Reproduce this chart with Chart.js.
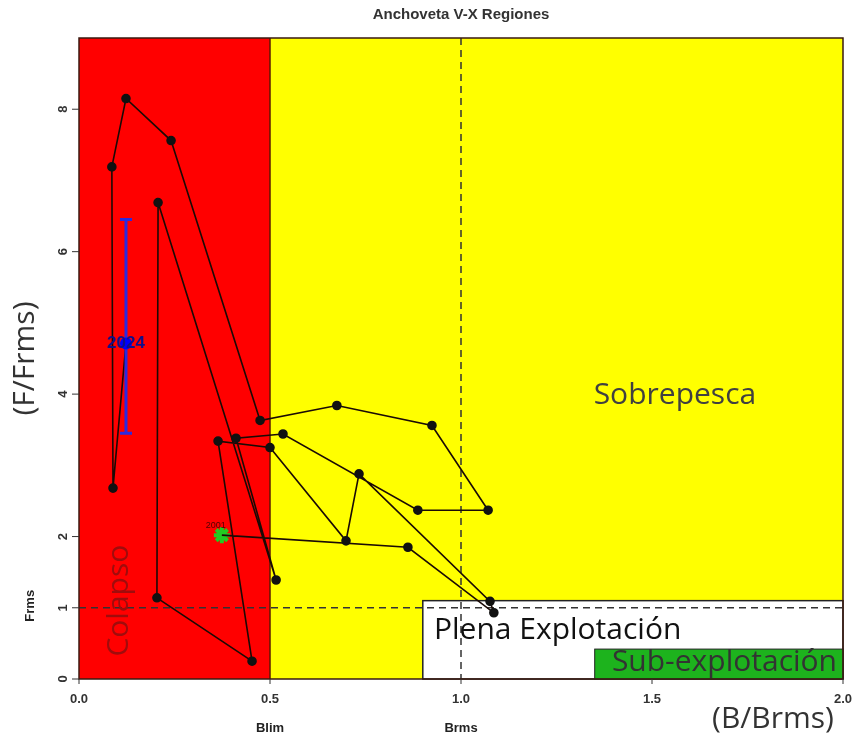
<!DOCTYPE html>
<html>
<head>
<meta charset="utf-8">
<script src="https://cdn.jsdelivr.net/npm/chart.js@4.4.1/dist/chart.umd.min.js"></script>
<style>
  body { margin: 0; background: #fff; }
  .chart-box { width: 855px; height: 742px; }
</style>
</head>
<body>
<div class="chart-box">
  <canvas id="kobe" width="855" height="742"></canvas>
</div>
<script>
  // Trayectoria anual B/Brms vs F/Frms
  const years = [2001, 2002, 2003, 2004, 2005, 2006, 2007, 2008, 2009, 2010, 2011, 2012,
                 2013, 2014, 2015, 2016, 2017, 2018, 2019, 2020, 2021, 2022, 2023, 2024];
  const bRatio = [0.374, 0.861, 1.086, 1.076, 0.733, 0.699, 0.500, 0.364, 0.453, 0.204, 0.207, 0.516,
                  0.411, 0.534, 0.887, 1.071, 0.924, 0.675, 0.474, 0.241, 0.123, 0.086, 0.089, 0.123];
  const fRatio = [2.02, 1.85, 0.93, 1.09, 2.88, 1.94, 3.25, 3.34, 0.25, 1.14, 6.69, 1.39,
                  3.38, 3.44, 2.37, 2.37, 3.56, 3.84, 3.63, 7.56, 8.15, 7.19, 2.68, 4.71];
  // intervalo del último año
  const lastFLow = 3.45;
  const lastFHigh = 6.45;

  // puntos de referencia y zonas
  const blim = 0.5;
  const brms = 1.0;
  const frms = 1.0;
  const plenaB = [0.9, 2.0];
  const plenaF = [0, 1.1];
  const subB = [1.35, 2.0];
  const subF = [0, 0.42];

  const xTicks = [0, 0.5, 1.0, 1.5, 2.0];
  const yTicks = [0, 1, 2, 4, 6, 8];

  const pts = bRatio.map((b, i) => ({ x: b, y: fRatio[i] }));
  const nPts = pts.length;

  const zonasPlugin = {
    id: "zonas",
    beforeDatasetsDraw(chart) {
      const { ctx, chartArea: a, scales } = chart;
      const X = (v) => scales.x.getPixelForValue(v);
      const Y = (v) => scales.y.getPixelForValue(v);
      ctx.save();
      // colapso
      ctx.fillStyle = "#ff0000";
      ctx.fillRect(a.left, a.top, X(blim) - a.left, a.bottom - a.top);
      // sobrepesca
      ctx.fillStyle = "#ffff00";
      ctx.fillRect(X(blim), a.top, a.right - X(blim), a.bottom - a.top);
      ctx.strokeStyle = "#5a1a00";
      ctx.lineWidth = 1.5;
      ctx.beginPath();
      ctx.moveTo(X(blim), a.top);
      ctx.lineTo(X(blim), a.bottom);
      ctx.stroke();
      // plena explotacion
      ctx.fillStyle = "#ffffff";
      ctx.fillRect(X(plenaB[0]), Y(plenaF[1]), X(plenaB[1]) - X(plenaB[0]), Y(plenaF[0]) - Y(plenaF[1]));
      ctx.strokeStyle = "#222";
      ctx.lineWidth = 1.5;
      ctx.strokeRect(X(plenaB[0]), Y(plenaF[1]), X(plenaB[1]) - X(plenaB[0]), Y(plenaF[0]) - Y(plenaF[1]));
      // sub-explotacion
      ctx.fillStyle = "#1db31d";
      ctx.fillRect(X(subB[0]), Y(subF[1]), X(subB[1]) - X(subB[0]), Y(subF[0]) - Y(subF[1]));
      ctx.strokeStyle = "#222";
      ctx.lineWidth = 1;
      ctx.strokeRect(X(subB[0]), Y(subF[1]), X(subB[1]) - X(subB[0]), Y(subF[0]) - Y(subF[1]));

      // lineas de referencia
      ctx.setLineDash([7, 5]);
      ctx.strokeStyle = "#333";
      ctx.lineWidth = 1.5;
      ctx.beginPath();
      ctx.moveTo(X(brms), a.top);
      ctx.lineTo(X(brms), a.bottom);
      ctx.moveTo(a.left, Y(frms));
      ctx.lineTo(a.right, Y(frms));
      ctx.stroke();
      ctx.setLineDash([]);

      // textos de zonas
      ctx.textBaseline = "middle";
      ctx.textAlign = "center";
      ctx.fillStyle = "#404040";
      ctx.font = '30px "Open Sans", sans-serif';
      ctx.fillText("Sobrepesca", X(1.56), Y(3.98));
      ctx.fillStyle = "#111";
      ctx.fillText("Plena Explotación", X(1.253), Y(0.68));
      ctx.save();
      ctx.beginPath();
      ctx.rect(a.left, a.top, a.right - a.left, a.bottom - a.top);
      ctx.clip();
      ctx.fillStyle = "#333";
      ctx.textAlign = "left";
      ctx.fillText("Sub-explotación", X(1.395), Y(0.23));
      ctx.restore();
      ctx.save();
      ctx.translate(X(0.107), Y(1.1));
      ctx.rotate(-Math.PI / 2);
      ctx.fillStyle = "#a00c0c";
      ctx.fillText("Colapso", 0, 0);
      ctx.restore();
      ctx.restore();
    },
    afterDatasetsDraw(chart) {
      const { ctx, chartArea: a, scales } = chart;
      const X = (v) => scales.x.getPixelForValue(v);
      const Y = (v) => scales.y.getPixelForValue(v);
      ctx.save();
      // barra de error del ultimo año
      const lx = X(bRatio[nPts - 1]);
      ctx.strokeStyle = "#2a2ae0";
      ctx.lineWidth = 3;
      ctx.beginPath();
      ctx.moveTo(lx, Y(lastFLow));
      ctx.lineTo(lx, Y(lastFHigh));
      ctx.moveTo(lx - 6, Y(lastFLow));
      ctx.lineTo(lx + 6, Y(lastFLow));
      ctx.moveTo(lx - 6, Y(lastFHigh));
      ctx.lineTo(lx + 6, Y(lastFHigh));
      ctx.stroke();
      ctx.fillStyle = "#0000ff";
      ctx.beginPath();
      ctx.arc(lx, Y(fRatio[nPts - 1]), 6, 0, Math.PI * 2);
      ctx.fill();
      ctx.textAlign = "center";
      ctx.textBaseline = "middle";
      ctx.fillStyle = "#10108a";
      ctx.font = 'bold 17px "Liberation Sans", sans-serif';
      ctx.fillText(String(years[nPts - 1]), lx, Y(fRatio[nPts - 1]));
      // etiqueta primer año
      ctx.fillStyle = "#500000";
      ctx.font = '9px "Liberation Sans", sans-serif';
      ctx.fillText(String(years[0]), X(bRatio[0]) - 6, Y(fRatio[0]) - 10);

      // marco
      ctx.strokeStyle = "#3a1a10";
      ctx.lineWidth = 1.5;
      ctx.strokeRect(a.left, a.top, a.right - a.left, a.bottom - a.top);

      // ejes y etiquetas
      ctx.fillStyle = "#333";
      ctx.strokeStyle = "#333";
      ctx.lineWidth = 1;
      ctx.font = 'bold 13px "Liberation Sans Narrow", "Liberation Sans", sans-serif';
      xTicks.forEach((t) => {
        const px = X(t);
        ctx.beginPath();
        ctx.moveTo(px, a.bottom);
        ctx.lineTo(px, a.bottom + 5);
        ctx.stroke();
        ctx.fillText(t.toFixed(1), px, a.bottom + 20);
      });
      yTicks.forEach((t) => {
        const py = Y(t);
        ctx.beginPath();
        ctx.moveTo(a.left - 7, py);
        ctx.lineTo(a.left, py);
        ctx.stroke();
        ctx.save();
        ctx.translate(a.left - 16, py);
        ctx.rotate(-Math.PI / 2);
        ctx.fillText(String(t), 0, 0);
        ctx.restore();
      });
      ctx.fillStyle = "#222";
      ctx.fillText("Blim", X(blim), a.bottom + 49);
      ctx.fillText("Brms", X(brms), a.bottom + 49);
      ctx.save();
      ctx.translate(30, Y(frms) - 2);
      ctx.rotate(-Math.PI / 2);
      ctx.fillText("Frms", 0, 0);
      ctx.restore();

      ctx.font = '30px "Open Sans", sans-serif';
      ctx.fillStyle = "#333";
      ctx.fillText("(B/Brms)", 773, a.bottom + 40);
      ctx.save();
      ctx.translate(25, Y(4.5));
      ctx.rotate(-Math.PI / 2);
      ctx.fillText("(F/Frms)", 0, 0);
      ctx.restore();

      ctx.font = 'bold 15px "Liberation Sans Narrow", "Liberation Sans", sans-serif';
      ctx.fillStyle = "#333";
      ctx.fillText("Anchoveta V-X Regiones", X(1.0), 15);
      ctx.restore();
    },
  };

  new Chart(document.getElementById("kobe"), {
    type: "scatter",
    data: {
      datasets: [
        {
          label: "Trayectoria",
          data: pts,
          showLine: true,
          borderColor: "#1a0a05",
          borderWidth: 1.6,
          pointRadius: pts.map((p, i) => (i === 0 || i === nPts - 1 ? 0 : 4)),
          pointBackgroundColor: "#111",
          pointBorderColor: "#111",
        },
        {
          label: "Inicio",
          data: [pts[0]],
          pointStyle: "star",
          pointRadius: 8,
          borderWidth: 4,
          pointBorderColor: "#22cc22",
          pointBackgroundColor: "#22cc22",
        },
      ],
    },
    options: {
      responsive: false,
      animation: false,
      layout: { padding: { left: 79, right: 12, top: 38, bottom: 63 } },
      scales: {
        x: { type: "linear", min: 0, max: 2, display: false },
        y: { type: "linear", min: 0, max: 9, display: false },
      },
      plugins: { legend: { display: false }, tooltip: { enabled: false } },
    },
    plugins: [zonasPlugin],
  });
</script>
</body>
</html>
